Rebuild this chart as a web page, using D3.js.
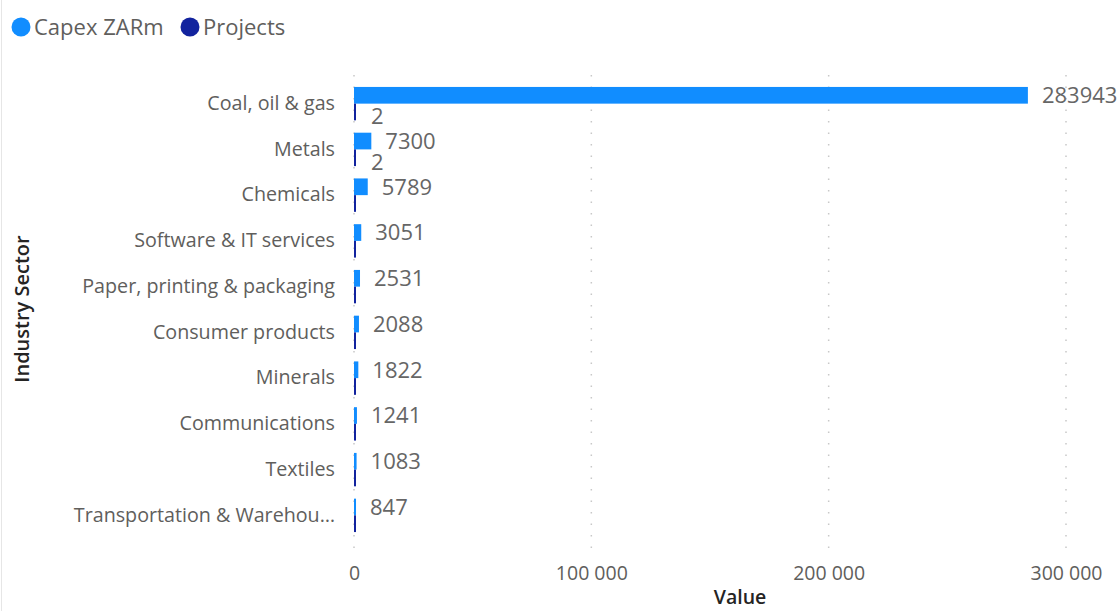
<!DOCTYPE html>
<html>
<head>
<meta charset="utf-8">
<script src="https://cdn.jsdelivr.net/npm/d3@7"></script>
<style>
  html, body { margin: 0; padding: 0; background: #fff; }
  svg { display: block; font-family: "Open Sans", "Noto Sans", sans-serif; }
</style>
</head>
<body>
<svg id="chart" width="1119" height="611"></svg>
<script>
// Industry sectors ranked by capital expenditure
const sectors = [
  "Coal, oil & gas",
  "Metals",
  "Chemicals",
  "Software & IT services",
  "Paper, printing & packaging",
  "Consumer products",
  "Minerals",
  "Communications",
  "Textiles",
  "Transportation & Warehou…"
];
const capex = [283943, 7300, 5789, 3051, 2531, 2088, 1822, 1241, 1083, 847];
const projects = [2, 2, 1, 1, 1, 1, 1, 1, 1, 1];
const xTicks = [0, 100000, 200000, 300000];
const seriesNames = ["Capex ZARm", "Projects"];
const seriesColors = ["#118DFF", "#12239E"];

const svg = d3.select("#chart");
const W = 1119, H = 611;

// left panel border
svg.append("line")
  .attr("x1", 1.5).attr("x2", 1.5).attr("y1", 0).attr("y2", H)
  .attr("stroke", "#e6e6e6").attr("stroke-width", 1);

const plot = { left: 354, right: 1066, top: 81, bottom: 538 };

const x = d3.scaleLinear().domain([0, 300000]).range([plot.left, plot.right]);
const y = d3.scaleBand().domain(sectors).range([plot.top, plot.bottom]).paddingInner(0.27).paddingOuter(0.13);
const ySub = d3.scaleBand().domain(seriesNames).range([0, y.bandwidth()]);

// dotted vertical gridlines
svg.append("g").selectAll("line").data(xTicks).join("line")
  .attr("x1", d => x(d)).attr("x2", d => x(d))
  .attr("y1", 75).attr("y2", 548)
  .attr("stroke", "#c8c8c8").attr("stroke-width", 1.5)
  .attr("stroke-dasharray", "1.5,10");

// x axis tick labels
const fmt = d => d3.format(",")(d).replace(/,/g, " ");
const xAxis = svg.append("g").attr("transform", `translate(0,${566})`)
  .call(d3.axisBottom(x).tickValues(xTicks).tickFormat(fmt).tickSize(0).tickPadding(0));
xAxis.select(".domain").remove();
xAxis.selectAll("text")
  .attr("font-size", 19.5).attr("fill", "#605E5C")
  .attr("font-family", "'Open Sans', sans-serif");

// y axis category labels
const yAxis = svg.append("g").attr("transform", `translate(${335},0)`)
  .call(d3.axisLeft(y).tickSize(0).tickPadding(0));
yAxis.select(".domain").remove();
yAxis.selectAll("text")
  .attr("font-size", 19.7).attr("fill", "#605E5C")
  .attr("font-family", "'Open Sans', sans-serif");

// bars
const minW = 2;
const groups = svg.append("g").selectAll("g").data(sectors).join("g")
  .attr("transform", d => `translate(0,${y(d)})`);

groups.append("rect")
  .attr("x", plot.left)
  .attr("y", ySub(seriesNames[0]))
  .attr("height", ySub.bandwidth())
  .attr("width", (d, i) => Math.max(minW, x(capex[i]) - x(0)))
  .attr("fill", seriesColors[0]);

groups.append("rect")
  .attr("x", plot.left)
  .attr("y", ySub(seriesNames[1]))
  .attr("height", ySub.bandwidth())
  .attr("width", (d, i) => Math.max(minW, x(projects[i]) - x(0)))
  .attr("fill", seriesColors[1]);

// data labels
groups.append("text")
  .attr("x", (d, i) => Math.max(plot.left + minW, x(capex[i])) + 14)
  .attr("y", ySub(seriesNames[0]) + ySub.bandwidth() / 2)
  .attr("dy", "0.36em")
  .attr("font-size", 22).attr("fill", "#666666")
  .text((d, i) => capex[i]);

groups.filter((d, i) => projects[i] > 1).append("text")
  .attr("x", (d) => Math.max(plot.left + minW, x(projects[sectors.indexOf(d)])) + 15)
  .attr("y", ySub(seriesNames[1]) + ySub.bandwidth() / 2 + 4)
  .attr("dy", "0.36em")
  .attr("font-size", 22).attr("fill", "#666666")
  .text(d => projects[sectors.indexOf(d)]);

// axis titles
svg.append("text")
  .attr("x", 740).attr("y", 597)
  .attr("dy", "0.36em")
  .attr("text-anchor", "middle")
  .attr("font-size", 19.5).attr("font-weight", 600).attr("fill", "#252423")
  .text("Value");

svg.append("text")
  .attr("transform", "translate(22,309) rotate(-90)")
  .attr("dy", "0.36em")
  .attr("text-anchor", "middle")
  .attr("font-size", 20).attr("font-weight", 600).attr("fill", "#252423")
  .text("Industry Sector");

// legend
const legend = svg.append("g");
const legendItems = [
  { name: seriesNames[0], color: seriesColors[0], cx: 21, tx: 34 },
  { name: seriesNames[1], color: seriesColors[1], cx: 190, tx: 203 }
];
legend.selectAll("circle").data(legendItems).join("circle")
  .attr("cx", d => d.cx).attr("cy", 27).attr("r", 9.5)
  .attr("fill", d => d.color);
legend.selectAll("text").data(legendItems).join("text")
  .attr("x", d => d.tx).attr("y", 27).attr("dy", "0.36em")
  .attr("font-size", 22).attr("fill", "#605E5C")
  .text(d => d.name);
</script>
</body>
</html>
